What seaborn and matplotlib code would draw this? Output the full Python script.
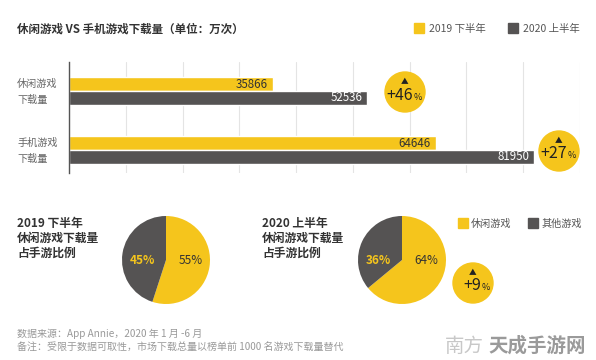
import pandas as pd
import seaborn as sns
import matplotlib.pyplot as plt
from matplotlib.patches import Circle, Rectangle

# 数据
categories = ['休闲游戏\n下载量', '手机游戏\n下载量']
periods = ['2019 下半年', '2020 上半年']
downloads_2019h2 = [35866, 64646]
downloads_2020h1 = [52536, 81950]
growth = ['+46', '+27']

pie_titles = [['2019 下半年', '休闲游戏下载量', '占手游比例'],
              ['2020 上半年', '休闲游戏下载量', '占手游比例']]
pie_labels = ['休闲游戏', '其他游戏']
share_2019h2 = [55, 45]
share_2020h1 = [64, 36]
share_growth = '+9'

YELLOW = '#F5C51C'
GRAY = '#555353'

sns.set_theme(style='white')
plt.rcParams['font.family'] = ['Noto Sans CJK SC', 'DejaVu Sans']

df = pd.DataFrame({
    'cat': categories * 2,
    'period': [periods[0]] * 2 + [periods[1]] * 2,
    'value': downloads_2019h2 + downloads_2020h1,
})

W, H = 596, 360
fig = plt.figure(figsize=(W / 100, H / 100), dpi=100)
fig.patch.set_facecolor('white')

# 1. 条形图
ax = fig.add_axes([69 / W, 1 - 173 / H, 511 / W, 111 / H])
sns.barplot(data=df, y='cat', x='value', hue='period', orient='h',
            palette=[YELLOW, GRAY], width=0.46, saturation=1,
            legend=False, ax=ax)
ax.set_xlim(0, 90000)
ax.set_ylim(1.39, -0.49)
ax.set_xticks(range(0, 90001, 10000))
ax.xaxis.grid(True, color='#e4e4e4', linewidth=0.8)
ax.set_axisbelow(True)
ax.set_xlabel('')
ax.set_ylabel('')
ax.set_xticklabels([])
ax.set_yticklabels([])
ax.tick_params(length=0)
for s in ['top', 'right', 'bottom']:
    ax.spines[s].set_visible(False)
ax.spines['left'].set_color('#555555')
ax.spines['left'].set_linewidth(1)

for cont, tc in zip(ax.containers, ['#333333', 'white']):
    for p in cont:
        w = p.get_width()
        ax.text(w - 900, p.get_y() + p.get_height() / 2, f'{int(w)}',
                ha='right', va='center', fontsize=8.3, color=tc)

# 2. 饼图
def draw_pie(cx, cy, r, vals):
    pax = fig.add_axes([(cx - r) / W, 1 - (cy + r) / H, 2 * r / W, 2 * r / H])
    pax.pie(vals, colors=[YELLOW, GRAY], startangle=90, counterclock=False,
            wedgeprops=dict(linewidth=0))
    pax.set_xlim(-1, 1)
    pax.set_ylim(-1, 1)
    pax.text(0.56, 0, f'{vals[0]}%', ha='center', va='center',
             fontsize=8.5, color='#333333')
    pax.text(-0.54, 0, f'{vals[1]}%', ha='center', va='center',
             fontsize=8.5, color=YELLOW, fontweight='bold')

draw_pie(166, 260, 44, share_2019h2)
draw_pie(402, 260, 44, share_2020h1)

# 3. 文字、图例、气泡
ov = fig.add_axes([0, 0, 1, 1])
ov.set_xlim(0, W)
ov.set_ylim(H, 0)
ov.axis('off')
ov.patch.set_visible(False)

ov.text(17, 29, '休闲游戏 VS 手机游戏下载量（单位：万次）', fontsize=8.3,
        fontweight='bold', color='#333333', va='center')

for x, c, lab in [(414, YELLOW, periods[0]), (508, GRAY, periods[1])]:
    ov.add_patch(Rectangle((x, 23), 10, 10, color=c))
    ov.text(x + 15, 28.5, lab, fontsize=7.5, color='#555555', va='center')

for yc, lab in zip([91, 150], categories):
    l1, l2 = lab.split('\n')
    ov.text(17, yc - 7, l1, fontsize=7.3, color='#666666', va='center')
    ov.text(17, yc + 9, l2, fontsize=7.3, color='#666666', va='center')

def bubble(cx, cy, txt):
    ov.add_patch(Circle((cx, cy), 20, color=YELLOW, zorder=3))
    ov.text(cx, cy - 10, '▲', fontsize=5.5, ha='center', va='center',
            color='#222222', zorder=4)
    ov.text(cx + 8, cy + 3, txt, fontsize=11.5, ha='right', va='center',
            color='#222222', zorder=4)
    ov.text(cx + 8.5, cy + 5, '%', fontsize=6.5, ha='left', va='center',
            color='#222222', zorder=4)

bubble(405, 92, growth[0])
bubble(559, 151, growth[1])
bubble(473, 283, share_growth)

for x0, lines in zip([17, 262], pie_titles):
    for i, ln in enumerate(lines):
        ov.text(x0, 223 + 15 * i, ln, fontsize=8.5, fontweight='bold',
                color='#333333', va='center')

for x, c, lab in [(458, YELLOW, pie_labels[0]), (528, GRAY, pie_labels[1])]:
    ov.add_patch(Rectangle((x, 218), 10, 10, color=c))
    ov.text(x + 13, 223.5, lab, fontsize=7.3, color='#555555', va='center')

ov.text(17, 334, '数据来源：App Annie，2020 年 1 月 -6 月', fontsize=7.2,
        color='#999999', va='center')
ov.text(17, 348, '备注：受限于数据可取性，市场下载总量以榜单前 1000 名游戏下载量替代',
        fontsize=7.2, color='#999999', va='center')

ov.text(445, 346, '南方', fontsize=14, color='#c8c8c8', va='center')
ov.text(488, 346, '天成手游网', fontsize=14, color='#9a9a9a',
        fontweight='bold', va='center')

fig.savefig('out.png', dpi=100, facecolor='white')
